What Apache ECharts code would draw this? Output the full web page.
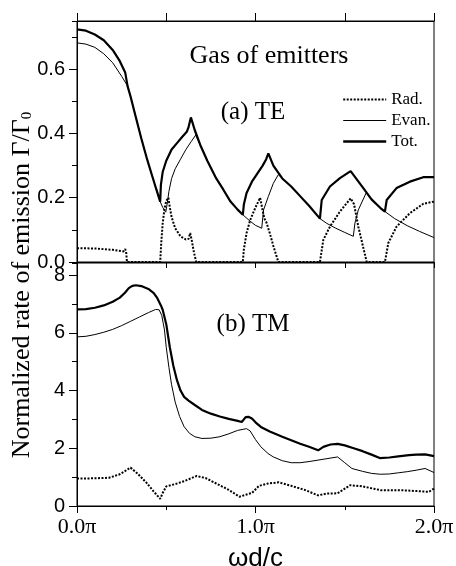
<!DOCTYPE html>
<html>
<head>
<meta charset="utf-8">
<script src="https://cdn.jsdelivr.net/npm/echarts@6/dist/echarts.min.js"></script>
</head>
<body style="margin:0;background:#fff">
<div id="container" style="width:456px;height:566px"></div>
<script>
// frequency axis, in units of pi (ωd/c)
// (a) TE
var teRadX = [0, 0.1, 0.2, 0.26, 0.27, 0.275, 0.28, 0.466, 0.472, 0.48, 0.49, 0.5, 0.512, 0.52, 0.53, 0.55, 0.58, 0.61, 0.625, 0.634, 0.642, 0.655, 0.668,
              0.929, 0.935, 0.95, 0.97, 1.0, 1.026, 1.04, 1.05, 1.06, 1.08, 1.1, 1.128,
              1.361, 1.38, 1.417, 1.473, 1.533, 1.552, 1.576, 1.623,
              1.725, 1.744, 1.79, 1.865, 1.94, 2.0];
var teRadY = [0.043, 0.042, 0.038, 0.033, 0.04, 0.033, 0, 0, 0.06, 0.12, 0.165, 0.19, 0.2, 0.17, 0.14, 0.105, 0.08, 0.07, 0.072, 0.09, 0.07, 0.03, 0,
              0, 0.04, 0.09, 0.13, 0.17, 0.2, 0.16, 0.135, 0.125, 0.09, 0.05, 0,
              0, 0.069, 0.11, 0.157, 0.198, 0.18, 0.11, 0,
              0, 0.059, 0.11, 0.152, 0.181, 0.188];

var teEvanX = [0, 0.05, 0.1, 0.15, 0.2, 0.25, 0.283, 0.3, 0.33, 0.36, 0.39, 0.42, 0.445, 0.466, 0.48, 0.497, 0.505, 0.515, 0.53, 0.55, 0.58, 0.61, 0.64, 0.665,
               0.69, 0.73, 0.78, 0.82, 0.86, 0.9, 0.929, 0.97, 1.0, 1.035, 1.045, 1.072, 1.1, 1.128,
               1.15, 1.2, 1.25, 1.3, 1.361, 1.4, 1.45, 1.5, 1.548, 1.557, 1.576, 1.62,
               1.65, 1.7, 1.725, 1.78, 1.85, 1.92, 2.0];
var teEvanY = [0.682, 0.678, 0.668, 0.648, 0.62, 0.578, 0.548, 0.515, 0.45, 0.385, 0.325, 0.27, 0.225, 0.188, 0.17, 0.155, 0.18, 0.22, 0.26, 0.29, 0.32, 0.35, 0.375, 0.395,
               0.365, 0.315, 0.26, 0.225, 0.188, 0.163, 0.147, 0.127, 0.114, 0.105, 0.162, 0.204, 0.245, 0.272,
               0.26, 0.235, 0.205, 0.175, 0.135, 0.12, 0.105, 0.092, 0.08, 0.121, 0.162, 0.215,
               0.195, 0.168, 0.157, 0.135, 0.113, 0.095, 0.076];

var teTotX = [0, 0.05, 0.1, 0.15, 0.2, 0.24, 0.27, 0.283, 0.3, 0.33, 0.36, 0.39, 0.42, 0.445, 0.466,
              0.47, 0.48, 0.5, 0.53, 0.56, 0.59, 0.615, 0.625, 0.638, 0.66, 0.69, 0.73, 0.78, 0.82, 0.86, 0.9, 0.929,
              0.935, 0.95, 0.98, 1.01, 1.04, 1.06, 1.072, 1.1, 1.15, 1.2, 1.25, 1.3, 1.361,
              1.371, 1.417, 1.473, 1.533, 1.604, 1.65, 1.7, 1.725,
              1.735, 1.79, 1.865, 1.94, 2.0];
var teTotY = [0.724, 0.72, 0.708, 0.69, 0.66, 0.625, 0.59, 0.548, 0.515, 0.45, 0.385, 0.325, 0.27, 0.225, 0.188,
              0.24, 0.28, 0.315, 0.35, 0.37, 0.39, 0.405, 0.42, 0.45, 0.41, 0.365, 0.315, 0.26, 0.225, 0.188, 0.163, 0.147,
              0.18, 0.215, 0.25, 0.275, 0.3, 0.32, 0.338, 0.3, 0.26, 0.235, 0.205, 0.175, 0.135,
              0.193, 0.235, 0.261, 0.283, 0.23, 0.195, 0.168, 0.157,
              0.193, 0.23, 0.25, 0.264, 0.264];

// (b) TM
var tmRadX = [0, 0.1, 0.18, 0.24, 0.3, 0.34, 0.39, 0.43, 0.466, 0.48, 0.5, 0.55, 0.6, 0.67, 0.72, 0.78, 0.85, 0.91, 0.95, 0.98, 1.02, 1.07, 1.13, 1.2, 1.28, 1.35, 1.4, 1.46, 1.53, 1.6, 1.7, 1.8, 1.9, 1.97, 2.0];
var tmRadY = [0.95, 0.96, 0.98, 1.1, 1.33, 1.12, 0.8, 0.5, 0.25, 0.45, 0.68, 0.76, 0.86, 1.04, 0.97, 0.78, 0.56, 0.32, 0.4, 0.45, 0.7, 0.78, 0.82, 0.7, 0.55, 0.37, 0.43, 0.44, 0.72, 0.68, 0.55, 0.55, 0.52, 0.49, 0.6];

var tmEvanX = [0, 0.05, 0.1, 0.15, 0.2, 0.25, 0.3, 0.35, 0.4, 0.44, 0.46, 0.475, 0.49, 0.5, 0.515, 0.53, 0.55, 0.575, 0.6, 0.63, 0.66, 0.7, 0.75, 0.8, 0.85, 0.9, 0.95, 0.97, 1.0, 1.03, 1.07, 1.1, 1.15, 1.2, 1.25, 1.3, 1.35, 1.4, 1.46, 1.5, 1.54, 1.6, 1.65, 1.7, 1.75, 1.8, 1.85, 1.9, 1.95, 2.0];
var tmEvanY = [5.86, 5.88, 5.94, 6.02, 6.12, 6.25, 6.4, 6.55, 6.7, 6.81, 6.8, 6.6, 6.1, 5.5, 4.8, 4.2, 3.6, 3.1, 2.75, 2.52, 2.4, 2.34, 2.35, 2.4, 2.5, 2.62, 2.68, 2.6, 2.3, 2.05, 1.82, 1.7, 1.57, 1.5, 1.5, 1.54, 1.59, 1.64, 1.7, 1.5, 1.3, 1.2, 1.13, 1.1, 1.11, 1.15, 1.19, 1.24, 1.3, 1.16];

var tmTotX = [0, 0.05, 0.1, 0.15, 0.2, 0.24, 0.27, 0.29, 0.31, 0.33, 0.36, 0.4, 0.43, 0.45, 0.47, 0.48, 0.5, 0.52, 0.54, 0.56, 0.58, 0.6, 0.625, 0.66, 0.7, 0.75, 0.8, 0.85, 0.9, 0.923, 0.945, 0.96, 0.98, 1.0, 1.03, 1.08, 1.15, 1.2, 1.25, 1.3, 1.351, 1.38, 1.42, 1.46, 1.5, 1.55, 1.6, 1.65, 1.696, 1.75, 1.8, 1.86, 1.9, 1.95, 2.0];
var tmTotY = [6.81, 6.82, 6.87, 6.95, 7.08, 7.22, 7.4, 7.55, 7.63, 7.65, 7.62, 7.52, 7.38, 7.2, 6.95, 6.8, 6.3, 5.5, 4.85, 4.36, 4.0, 3.78, 3.65, 3.5, 3.33, 3.2, 3.1, 3.02, 2.95, 2.91, 3.08, 3.09, 3.03, 2.9, 2.74, 2.58, 2.4, 2.28, 2.16, 2.05, 1.93, 2.05, 2.13, 2.15, 2.1, 2.0, 1.9, 1.78, 1.66, 1.68, 1.72, 1.76, 1.78, 1.79, 1.73];

var xTickLabels = ['0.0π', '1.0π', '2.0π'];

function pairs(xs, ys) {
    var out = [];
    for (var i = 0; i < xs.length; i++) out.push([xs[i], ys[i]]);
    return out;
}

var myChart = echarts.init(document.getElementById('container'));

var sans = 'Liberation Sans, Arial, sans-serif';
var serif = 'Liberation Serif, Times New Roman, serif';

var radStyle = {color: '#000', width: 2, type: [2, 1.5]};
var evanStyle = {color: '#000', width: 1};
var totStyle = {color: '#000', width: 2.2};

function plainX(grid, pos, len, interval, showLine) {
    return {
        type: 'value', gridIndex: grid, position: pos, min: 0, max: 2, interval: interval,
        axisLine: {show: showLine, onZero: false, lineStyle: {color: '#000', width: 1}},
        axisTick: {show: true, inside: false, length: len, lineStyle: {color: '#000', width: 1}},
        axisLabel: {show: false},
        splitLine: {show: false}
    };
}

function plainY(grid, max, interval, len, labels) {
    return {
        type: 'value', gridIndex: grid, position: 'left', min: 0, max: max, interval: interval,
        axisLine: {show: labels, lineStyle: {color: '#000', width: 1}},
        axisTick: {show: true, inside: false, length: len, lineStyle: {color: '#000', width: 1}},
        axisLabel: {
            show: labels, showMaxLabel: false, margin: 12, color: '#000',
            fontFamily: sans, fontSize: 20,
            formatter: function (v) { return max < 1 ? v.toFixed(1) : String(Math.round(v)); }
        },
        splitLine: {show: false}
    };
}

var option = {
    animation: false,
    backgroundColor: '#fff',
    grid: [
        {left: 77, top: 21, width: 357, height: 241, outerBoundsMode: 'none', show: true, borderColor: '#000', borderWidth: 1},
        {left: 77, top: 263, width: 357, height: 243, outerBoundsMode: 'none', show: true, borderColor: '#000', borderWidth: 1}
    ],
    xAxis: [
        plainX(0, 'bottom', 6, 0.5, true),
        plainX(0, 'top', 8, 0.5, true),
        {
            type: 'value', gridIndex: 1, position: 'bottom', min: 0, max: 2, interval: 1,
            name: 'ωd/c', nameLocation: 'middle', nameGap: 40,
            nameTextStyle: {fontFamily: sans, fontSize: 26, color: '#000'},
            axisLine: {show: true, onZero: false, lineStyle: {color: '#000', width: 1}},
            axisTick: {show: true, length: 7, lineStyle: {color: '#000', width: 1}},
            axisLabel: {
                margin: 10, color: '#000', fontFamily: serif, fontSize: 22,
                formatter: function (v) { return xTickLabels[Math.round(v)]; }
            },
            splitLine: {show: false}
        },
        plainX(1, 'bottom', 4, 0.5, false)
    ],
    yAxis: [
        plainY(0, 0.75, 0.2, 8, true),
        plainY(0, 0.75, 0.1, 5, false),
        plainY(1, 8.42, 2, 8, true),
        plainY(1, 8.42, 1, 5, false)
    ],
    legend: {
        orient: 'vertical', left: 342, top: 91, padding: 0,
        itemWidth: 43, itemHeight: 14, itemGap: 4,
        itemStyle: {opacity: 0},
        data: [
            {name: 'Rad.', lineStyle: {width: 2}},
            {name: 'Evan.', lineStyle: {width: 1}},
            {name: 'Tot.', lineStyle: {width: 2.4}}
        ],
        textStyle: {fontFamily: serif, fontSize: 17, color: '#000'}
    },
    graphic: [
        {type: 'text', x: 269, y: 56, style: {text: 'Gas of emitters', font: '26px ' + serif, fill: '#000', textAlign: 'center', textVerticalAlign: 'middle'}},
        {type: 'text', x: 253, y: 112, style: {text: '(a) TE', font: '25px ' + serif, fill: '#000', textAlign: 'center', textVerticalAlign: 'middle'}},
        {type: 'text', x: 253, y: 324, style: {text: '(b) TM', font: '25px ' + serif, fill: '#000', textAlign: 'center', textVerticalAlign: 'middle'}},
        {type: 'text', x: 22, y: 285, rotation: Math.PI / 2,
         style: {text: 'Normalized rate of emission Γ/Γ{sub|0}', font: '26px ' + serif, fill: '#000', textAlign: 'center', textVerticalAlign: 'middle',
                 rich: {sub: {fontFamily: serif, fontSize: 15, verticalAlign: 'bottom', lineHeight: 14, padding: [12, 0, 0, 0]}}}}
    ],
    series: [
        {name: 'Rad.', type: 'line', xAxisIndex: 0, yAxisIndex: 0, symbol: 'none', data: pairs(teRadX, teRadY), lineStyle: radStyle, itemStyle: {color: '#000'}, z: 3},
        {name: 'Evan.', type: 'line', xAxisIndex: 0, yAxisIndex: 0, symbol: 'none', data: pairs(teEvanX, teEvanY), lineStyle: evanStyle, itemStyle: {color: '#000'}, z: 3},
        {name: 'Tot.', type: 'line', xAxisIndex: 0, yAxisIndex: 0, symbol: 'none', data: pairs(teTotX, teTotY), lineStyle: totStyle, itemStyle: {color: '#000'}, z: 4},
        {name: 'Rad.', type: 'line', xAxisIndex: 2, yAxisIndex: 2, symbol: 'none', data: pairs(tmRadX, tmRadY), lineStyle: radStyle, itemStyle: {color: '#000'}, z: 3},
        {name: 'Evan.', type: 'line', xAxisIndex: 2, yAxisIndex: 2, symbol: 'none', data: pairs(tmEvanX, tmEvanY), lineStyle: evanStyle, itemStyle: {color: '#000'}, z: 3},
        {name: 'Tot.', type: 'line', xAxisIndex: 2, yAxisIndex: 2, symbol: 'none', data: pairs(tmTotX, tmTotY), lineStyle: totStyle, itemStyle: {color: '#000'}, z: 4}
    ]
};

myChart.setOption(option);
</script>
</body>
</html>
